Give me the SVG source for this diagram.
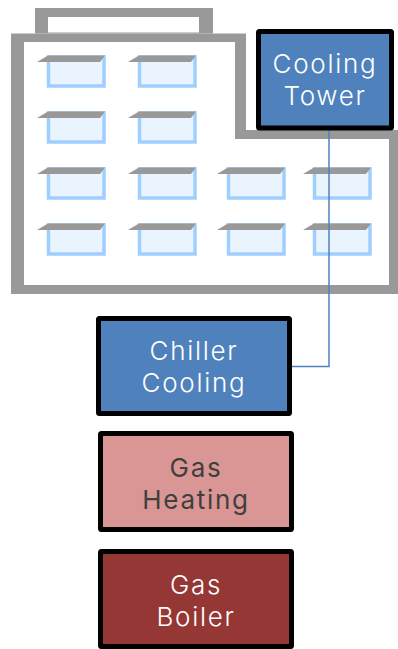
<svg xmlns="http://www.w3.org/2000/svg" width="398" height="649" viewBox="0 0 398 649">
<style>
.wall{fill:#999999}
.win{fill:#eaf4ff;stroke:#9fcfff;stroke-width:3.5}
.eave{fill:#999999}
.box{stroke:#000;stroke-width:5}
text{font-family:"Inter","Liberation Sans",sans-serif;font-size:26px;font-weight:300;text-anchor:middle;letter-spacing:1.7px}
.lt{fill:#fff}.dk{fill:#3f3f3f;font-weight:400}
</style>
<defs>
<filter id="soft" x="-5%" y="-5%" width="110%" height="110%"><feGaussianBlur stdDeviation="0.6"/></filter>
<g id="w"><rect class="win" x="48.5" y="57" width="55.5" height="29"/><polygon class="eave" points="37,62 48,55.5 105,55.5 100,62"/></g>
</defs>
<rect width="398" height="649" fill="#fff"/>
<g id="building" filter="url(#soft)">
<path class="wall" fill-rule="evenodd" d="M35 8H213V33.500H35ZM48 17V32.500H199V17Z"/>
<path class="wall" fill-rule="evenodd" d="M11 33.500H246V130H398V294H11ZM24 42V285H389V139H235V42Z"/>
<use href="#w"/><use href="#w" x="91"/>
<use href="#w" y="56"/><use href="#w" x="91" y="56"/>
<use href="#w" y="112"/><use href="#w" x="91" y="112"/><use href="#w" x="180" y="112"/><use href="#w" x="266" y="112"/>
<use href="#w" y="168"/><use href="#w" x="91" y="168"/><use href="#w" x="180" y="168"/><use href="#w" x="266" y="168"/>
</g>
<g id="connectors"><path d="M329 130V366.500H291" fill="none" stroke="#4f81bd" stroke-width="1.500"/></g>
<g id="cooling-tower"><rect class="box" x="258.500" y="31.500" width="133" height="96.500" rx="1" fill="#4f81bd"/><text class="lt" x="325" y="73">Cooling</text><text class="lt" x="325" y="105">Tower</text></g>
<g id="chiller-cooling"><rect class="box" x="98.500" y="318.500" width="191" height="95" rx="1" fill="#4f81bd"/><text class="lt" x="194" y="360">Chiller</text><text class="lt" x="194" y="392">Cooling</text></g>
<g id="gas-heating"><rect class="box" x="100.500" y="433.500" width="191" height="96" rx="1" fill="#d99694"/><text class="dk" x="196" y="477">Gas</text><text class="dk" x="196" y="509">Heating</text></g>
<g id="gas-boiler"><rect class="box" x="100.500" y="551.500" width="191" height="95" rx="1" fill="#953735"/><text class="lt" x="196" y="594">Gas</text><text class="lt" x="196" y="626">Boiler</text></g>
</svg>
